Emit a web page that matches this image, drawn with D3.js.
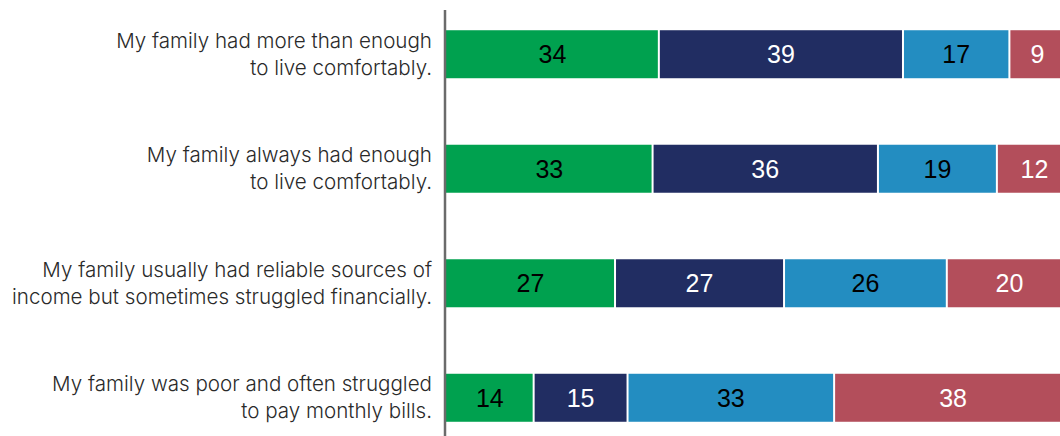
<!DOCTYPE html>
<html>
<head>
<meta charset="utf-8">
<script src="https://cdn.jsdelivr.net/npm/d3@7"></script>
<style>
  html, body { margin: 0; padding: 0; background: #fff; overflow: hidden; }
  svg { display: block; font-family: Inter, Roboto, "Noto Sans", sans-serif; }
</style>
</head>
<body>
<svg id="chart" width="1060" height="436"></svg>
<script>
// Survey responses by family financial situation (percent)
const categories = [
  ["My family had more than enough", "to live comfortably."],
  ["My family always had enough", "to live comfortably."],
  ["My family usually had reliable sources of", "income but sometimes struggled financially."],
  ["My family was poor and often struggled", "to pay monthly bills."]
];
const seriesA = [34, 33, 27, 14];
const seriesB = [39, 36, 27, 15];
const seriesC = [17, 19, 26, 33];
const seriesD = [9, 12, 20, 38];

const seriesColors = ["#00a14f", "#212d62", "#238dc1", "#b34e5b"];
const labelColors = ["#000", "#fff", "#000", "#fff"];

const svg = d3.select("#chart");
const axisX = 446;

const x = d3.scaleLinear().domain([0, 100]).range([axisX, 1072]);
const y = d3.scaleBand().domain(d3.range(categories.length)).range([-4, 456]).paddingInner(0.583).paddingOuter(0.3);

const rows = categories.map((c, i) => ({ i, vals: [seriesA[i], seriesB[i], seriesC[i], seriesD[i]] }));
const stack = d3.stack().keys([0, 1, 2, 3]).value((d, k) => d.vals[k]);
const layers = stack(rows);

const bh = 48;
const g = svg.append("g");
layers.forEach((layer, k) => {
  const lg = g.append("g");
  lg.selectAll("rect").data(layer).join("rect")
    .attr("x", d => x(d[0]) + (k > 0 ? 1 : 0))
    .attr("y", (d, i) => y(i) + y.bandwidth() / 2 - bh / 2)
    .attr("width", d => x(d[1]) - x(d[0]) - (k > 0 ? 2 : 1))
    .attr("height", bh)
    .attr("fill", seriesColors[k]);
  lg.selectAll("text").data(layer).join("text")
    .attr("x", d => (x(d[0]) + x(d[1])) / 2)
    .attr("y", (d, i) => y(i) + y.bandwidth() / 2)
    .attr("dy", "0.36em")
    .attr("text-anchor", "middle")
    .attr("font-family", "'Liberation Sans', Arial, sans-serif")
    .attr("font-size", 25)
    .attr("fill", labelColors[k])
    .text(d => d.data.vals[k]);
});

// category labels
const lab = svg.append("g");
categories.forEach((lines, i) => {
  const cy = y(i) + y.bandwidth() / 2;
  const t = lab.append("text")
    .attr("text-anchor", "end")
    .attr("font-size", 20.6)
    .attr("font-weight", 300)
    .attr("fill", "#2a2a2a");
  lines.forEach((ln, j) => {
    t.append("tspan").attr("x", 432)
      .attr("y", cy + (j - 0.5) * 27)
      .attr("dy", "0.35em")
      .text(ln);
  });
});

// vertical axis line
svg.append("line")
  .attr("x1", axisX - 1).attr("x2", axisX - 1)
  .attr("y1", 10).attr("y2", 436)
  .attr("stroke", "#6b6b6b").attr("stroke-width", 2.5);
</script>
</body>
</html>
